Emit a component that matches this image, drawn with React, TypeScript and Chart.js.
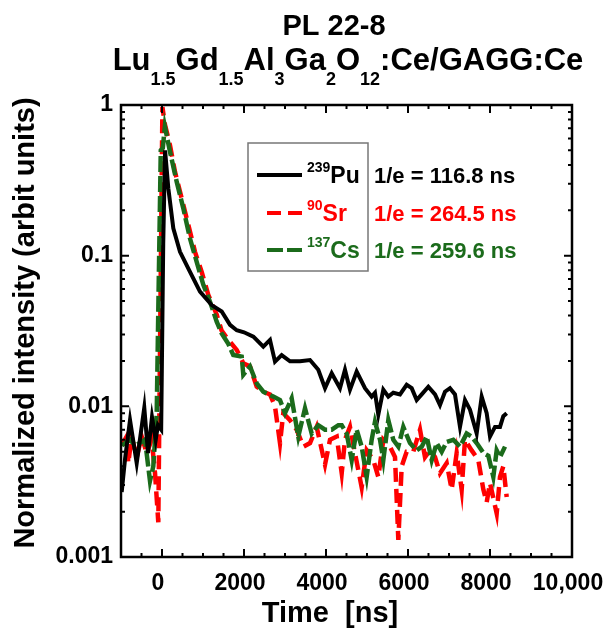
import React, { useEffect, useRef } from 'react';
import { Chart, registerables } from 'chart.js';
Chart.register(...registerables);

// ---------- data ----------
const puTime = [-983, -900, -780, -617, -432, -341, -244, -154, -98, -20, 30, 75, 154, 276, 439, 683, 927, 1212, 1456, 1659, 1822, 2000, 2229, 2471, 2634, 2756, 2919, 3122, 3366, 3610, 3812, 3976, 4139, 4341, 4463, 4585, 4748, 4951, 5114, 5195, 5276, 5398, 5520, 5642, 5805, 5967, 6090, 6212, 6334, 6496, 6659, 6780, 6902, 7024, 7146, 7268, 7390, 7512, 7675, 7797, 7919, 8000, 8122, 8244, 8325, 8407];
const puValue = [0.0027, 0.0045, 0.0081, 0.0042, 0.0098, 0.0049, 0.0085, 0.006, 0.0075, 0.007, 0.12, 0.5, 0.28, 0.152, 0.106, 0.078, 0.0577, 0.047, 0.0426, 0.0347, 0.032, 0.031, 0.029, 0.0249, 0.0276, 0.0198, 0.0219, 0.0199, 0.0199, 0.0203, 0.0175, 0.0132, 0.0166, 0.0132, 0.0175, 0.0129, 0.017, 0.0132, 0.0116, 0.0123, 0.0088, 0.0129, 0.0116, 0.0123, 0.012, 0.0139, 0.0132, 0.011, 0.012, 0.0135, 0.012, 0.0102, 0.0125, 0.0132, 0.012, 0.0073, 0.011, 0.0095, 0.0066, 0.0116, 0.009, 0.0063, 0.0073, 0.0073, 0.0086, 0.009];

const srTime = [-983, -862, -822, -740, -617, -495, -373, -251, -170, -90, 10, 73, 195, 317, 480, 642, 805, 968, 1129, 1334, 1450, 1617, 1822, 1983, 2146, 2310, 2471, 2634, 2756, 2878, 2958, 3122, 3285, 3446, 3610, 3773, 3976, 4098, 4261, 4383, 4463, 4585, 4707, 4870, 4992, 5154, 5276, 5398, 5561, 5683, 5764, 5846, 5967, 6129, 6293, 6415, 6537, 6659, 6780, 6943, 7065, 7187, 7309, 7390, 7553, 7715, 7838, 7919, 8000, 8163, 8244, 8325, 8407];
const srValue = [0.0055, 0.0063, 0.0042, 0.0063, 0.0046, 0.0063, 0.0049, 0.006, 0.0036, 0.0017, 0.97, 0.74, 0.54, 0.36, 0.24, 0.16, 0.106, 0.078, 0.055, 0.0407, 0.032, 0.0276, 0.0237, 0.0193, 0.0184, 0.0135, 0.0125, 0.012, 0.01, 0.0057, 0.009, 0.0081, 0.007, 0.0054, 0.0057, 0.0073, 0.0041, 0.006, 0.0063, 0.0036, 0.006, 0.0073, 0.0049, 0.0029, 0.0051, 0.0044, 0.0034, 0.006, 0.0054, 0.0046, 0.0013, 0.004, 0.005, 0.005, 0.007, 0.0046, 0.0051, 0.0046, 0.0036, 0.0042, 0.0028, 0.0049, 0.0028, 0.006, 0.0051, 0.0044, 0.0028, 0.0023, 0.0031, 0.00195, 0.0034, 0.004, 0.0025];

const csTime = [-980, -902, -780, -659, -537, -415, -293, -212, -129, -30, 20, 70, 195, 358, 520, 683, 846, 1008, 1171, 1334, 1456, 1617, 1739, 1944, 1983, 2146, 2310, 2471, 2715, 2878, 3000, 3163, 3324, 3488, 3651, 3812, 3976, 4139, 4301, 4383, 4505, 4627, 4748, 4870, 4992, 5114, 5195, 5317, 5398, 5520, 5642, 5764, 5886, 6049, 6212, 6334, 6456, 6578, 6700, 6822, 6943, 7105, 7268, 7431, 7553, 7675, 7838, 7960, 8081, 8163, 8244, 8366];
const csValue = [0.0055, 0.0057, 0.006, 0.0055, 0.0057, 0.006, 0.0032, 0.004, 0.009, 0.5, 0.52, 0.72, 0.49, 0.31, 0.206, 0.13, 0.091, 0.064, 0.0495, 0.0365, 0.0305, 0.026, 0.0219, 0.0214, 0.0162, 0.0184, 0.0142, 0.0125, 0.0116, 0.011, 0.009, 0.0113, 0.0063, 0.0097, 0.0066, 0.0075, 0.007, 0.007, 0.0075, 0.0075, 0.0066, 0.0044, 0.007, 0.0054, 0.0034, 0.006, 0.0079, 0.006, 0.0044, 0.0081, 0.006, 0.0054, 0.0073, 0.0057, 0.0051, 0.0054, 0.0063, 0.0044, 0.0057, 0.005, 0.0058, 0.006, 0.0054, 0.0066, 0.0063, 0.0057, 0.0049, 0.0047, 0.0034, 0.0051, 0.0046, 0.0054];

const xTickValues = [0, 2000, 4000, 6000, 8000, 10000];
const xTickLabels = ['0', '2000', '4000', '6000', '8000', '10,000'];
const yTickValues = [0.001, 0.01, 0.1, 1];
const yTickLabels = ['0.001', '0.01', '0.1', '1'];

const titleLine1 = 'PL 22-8';
// [text, isSubscript]
const titleLine2: [string, boolean][] = [
  ['Lu', false], ['1.5', true], ['Gd', false], ['1.5', true], ['Al', false], ['3', true],
  ['Ga', false], ['2', true], ['O', false], ['12', true], [':Ce/GAGG:Ce', false],
];
const xTitle = 'Time  [ns]';
const yTitle = 'Normalized intensity (arbit units)';

const legendMass = ['239', '90', '137'];
const legendElement = ['Pu', 'Sr', 'Cs'];
const legendDecay = ['1/e = 116.8 ns', '1/e = 264.5 ns', '1/e = 259.6 ns'];

const BLACK = '#000000';
const RED = '#ff0000';
const GREEN = '#1b6b1b';
const seriesColors = [BLACK, RED, GREEN];
const seriesDash: number[][] = [[], [14, 7], [16, 4]];
const FONT = '"Liberation Sans", Arial, sans-serif';

const X_MIN = -1000, X_MAX = 10000, X_MINOR = 500, X_MAJOR = 2000;

const toXY = (t: number[], v: number[]) => t.map((x, i) => ({ x, y: v[i] }));

const decorPlugin = {
  id: 'decor',
  afterDatasetsDraw(chart: any) {
    const { ctx, chartArea: a, scales } = chart;
    const x = scales.x, y = scales.y;
    ctx.save();
    // frame
    ctx.strokeStyle = '#000';
    ctx.lineWidth = 2.5;
    ctx.strokeRect(a.left, a.top, a.right - a.left, a.bottom - a.top);
    ctx.lineWidth = 2;
    ctx.beginPath();
    for (let v = X_MIN + X_MINOR; v < X_MAX; v += X_MINOR) {
      const px = x.getPixelForValue(v);
      const len = v % X_MAJOR === 0 ? 8 : 4;
      ctx.moveTo(px, a.bottom); ctx.lineTo(px, a.bottom - len);
      ctx.moveTo(px, a.top); ctx.lineTo(px, a.top + len);
    }
    for (let d = -3; d <= 0; d++) {
      for (let k = 1; k <= 9; k++) {
        const v = k * Math.pow(10, d);
        if (v > 1.0001) break;
        const py = y.getPixelForValue(v);
        const len = k === 1 ? 8 : 4;
        ctx.moveTo(a.left, py); ctx.lineTo(a.left + len, py);
        ctx.moveTo(a.right, py); ctx.lineTo(a.right - len, py);
      }
    }
    ctx.stroke();

    // titles
    ctx.fillStyle = '#000';
    ctx.textBaseline = 'alphabetic';
    ctx.textAlign = 'center';
    ctx.font = `bold 29px ${FONT}`;
    ctx.fillText(titleLine1, 334, 35);

    ctx.textAlign = 'left';
    let total = 0;
    const widths = titleLine2.map(([t, sub]) => {
      ctx.font = `bold ${sub ? 18 : 31}px ${FONT}`;
      const w = ctx.measureText(t).width;
      total += w;
      return w;
    });
    let cx = 348 - total / 2;
    titleLine2.forEach(([t, sub], i) => {
      ctx.font = `bold ${sub ? 18 : 31}px ${FONT}`;
      ctx.fillText(t, cx, sub ? 85 : 70);
      cx += widths[i];
    });

    ctx.textAlign = 'center';
    ctx.font = `bold 29px ${FONT}`;
    ctx.fillText(xTitle, 330, 622);
    ctx.save();
    ctx.translate(34, 323);
    ctx.rotate(-Math.PI / 2);
    ctx.fillText(yTitle, 0, 0);
    ctx.restore();

    // legend
    ctx.strokeStyle = '#777';
    ctx.lineWidth = 1.5;
    ctx.strokeRect(248, 143, 120, 128);
    const rowBase = [183, 221, 258];
    const sampleStart = [257, 267, 267];
    legendElement.forEach((el, i) => {
      const yb = rowBase[i];
      ctx.strokeStyle = seriesColors[i];
      ctx.lineWidth = 4;
      ctx.setLineDash(seriesDash[i]);
      ctx.beginPath();
      ctx.moveTo(sampleStart[i], yb - 8);
      ctx.lineTo(302, yb - 8);
      ctx.stroke();
      ctx.setLineDash([]);
      ctx.fillStyle = seriesColors[i];
      ctx.textAlign = 'left';
      ctx.font = `bold 14px ${FONT}`;
      ctx.fillText(legendMass[i], 307, yb - 11);
      const mw = ctx.measureText(legendMass[i]).width;
      ctx.font = `bold 23px ${FONT}`;
      ctx.fillText(el, 307 + mw, yb);
      ctx.font = `bold 22px ${FONT}`;
      ctx.fillText(legendDecay[i], 374, yb);
    });
    ctx.restore();
  },
};

export default function App() {
  const ref = useRef<HTMLCanvasElement>(null);
  useEffect(() => {
    const chart = new Chart(ref.current as HTMLCanvasElement, {
      type: 'line',
      data: {
        datasets: [
          { label: '239Pu', data: toXY(puTime, puValue), borderColor: BLACK, borderWidth: 4, borderDash: seriesDash[0] },
          { label: '137Cs', data: toXY(csTime, csValue), borderColor: GREEN, borderWidth: 4.5, borderDash: seriesDash[2] },
          { label: '90Sr', data: toXY(srTime, srValue), borderColor: RED, borderWidth: 4.5, borderDash: seriesDash[1] },
        ] as any,
      },
      options: {
        responsive: false,
        animation: false,
        events: [],
        font: { family: FONT } as any,
        elements: { point: { radius: 0 }, line: { tension: 0, fill: false } },
        layout: { padding: { left: 0, top: 105, right: 32, bottom: 0 } },
        plugins: { legend: { display: false }, tooltip: { enabled: false }, title: { display: false } },
        scales: {
          x: {
            type: 'linear',
            min: X_MIN,
            max: X_MAX,
            grid: { display: false, drawTicks: false },
            border: { display: false },
            afterBuildTicks: (s: any) => { s.ticks = xTickValues.map((v) => ({ value: v })); },
            afterFit: (s: any) => { s.height = 73; s.paddingLeft = 0; s.paddingRight = 0; },
            ticks: {
              autoSkip: false,
              maxRotation: 0,
              padding: 13,
              labelOffset: -4,
              color: '#000',
              font: { family: FONT, size: 23, weight: 'bold' },
              callback: (v: any) => xTickLabels[xTickValues.indexOf(Number(v))] ?? '',
            },
          },
          y: {
            type: 'logarithmic',
            min: 0.001,
            max: 1,
            grid: { display: false, drawTicks: false },
            border: { display: false },
            afterBuildTicks: (s: any) => { s.ticks = yTickValues.map((v) => ({ value: v })); },
            afterFit: (s: any) => { s.width = 121; s.paddingTop = 0; s.paddingBottom = 0; },
            ticks: {
              autoSkip: false,
              padding: 8,
              color: '#000',
              font: { family: FONT, size: 23, weight: 'bold' },
              callback: (v: any) => {
                const i = yTickValues.findIndex((t) => Math.abs(t - Number(v)) < t * 1e-6);
                return i >= 0 ? yTickLabels[i] : '';
              },
            },
          },
        },
      } as any,
      plugins: [decorPlugin],
    });
    return () => chart.destroy();
  }, []);
  return (
    <div style={{ position: 'absolute', left: 0, top: 0, width: 604, height: 630, background: '#fff' }}>
      <canvas ref={ref} width={604} height={630} style={{ display: 'block' }} />
    </div>
  );
}
